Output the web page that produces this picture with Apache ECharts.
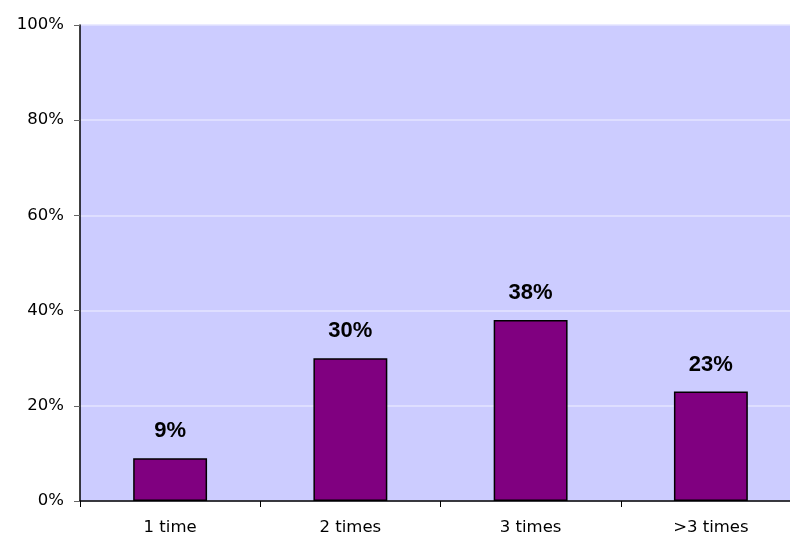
<!DOCTYPE html>
<html>
<head>
<meta charset="utf-8">
<script src="https://cdn.jsdelivr.net/npm/echarts@6/dist/echarts.min.js"></script>
<style>
html,body{margin:0;padding:0;background:#fff;overflow:hidden;}
#chart{width:801px;height:538px;}
</style>
</head>
<body>
<div id="chart"></div>
<script>
// Share of respondents by number of times
const categories = ['1 time', '2 times', '3 times', '>3 times'];
const shares = [9, 30, 38, 23];
const yTicks = [0, 20, 40, 60, 80, 100];

const chart = echarts.init(document.getElementById('chart'));
const axisFont = '"DejaVu Sans", Arial, sans-serif';
const labelFont = '"Liberation Sans", Arial, sans-serif';

chart.setOption({
  animation: false,
  grid: {
    left: 80, top: 25, right: 0, bottom: 37,
    outerBoundsMode: 'none',
    show: true, backgroundColor: '#ccccff', borderWidth: 0
  },
  xAxis: {
    type: 'category',
    data: categories,
    axisLine: { lineStyle: { color: '#000', width: 1.5 } },
    axisTick: { show: true, length: 6, lineStyle: { color: '#000' } },
    axisLabel: { color: '#000', fontFamily: axisFont, fontSize: 16.5, margin: 18 }
  },
  yAxis: {
    type: 'value',
    min: yTicks[0], max: yTicks[yTicks.length - 1], interval: 20,
    axisLine: { show: true, lineStyle: { color: '#000', width: 1.5 } },
    axisTick: { show: true, length: 6, lineStyle: { color: '#666' } },
    axisLabel: { color: '#000', fontFamily: axisFont, fontSize: 16.5, margin: 16,
      formatter: v => v + '%' },
    splitLine: { lineStyle: { color: '#e4e4ff', width: 1.5 } }
  },
  series: [{
    type: 'bar',
    data: shares,
    barWidth: '41%',
    itemStyle: { color: '#800080', borderColor: '#000', borderWidth: 1.5 },
    label: {
      show: true, position: 'top', distance: 16,
      formatter: p => p.value + '%',
      color: '#000', fontFamily: labelFont, fontSize: 22, fontWeight: 'bold'
    }
  }]
});
</script>
</body>
</html>
